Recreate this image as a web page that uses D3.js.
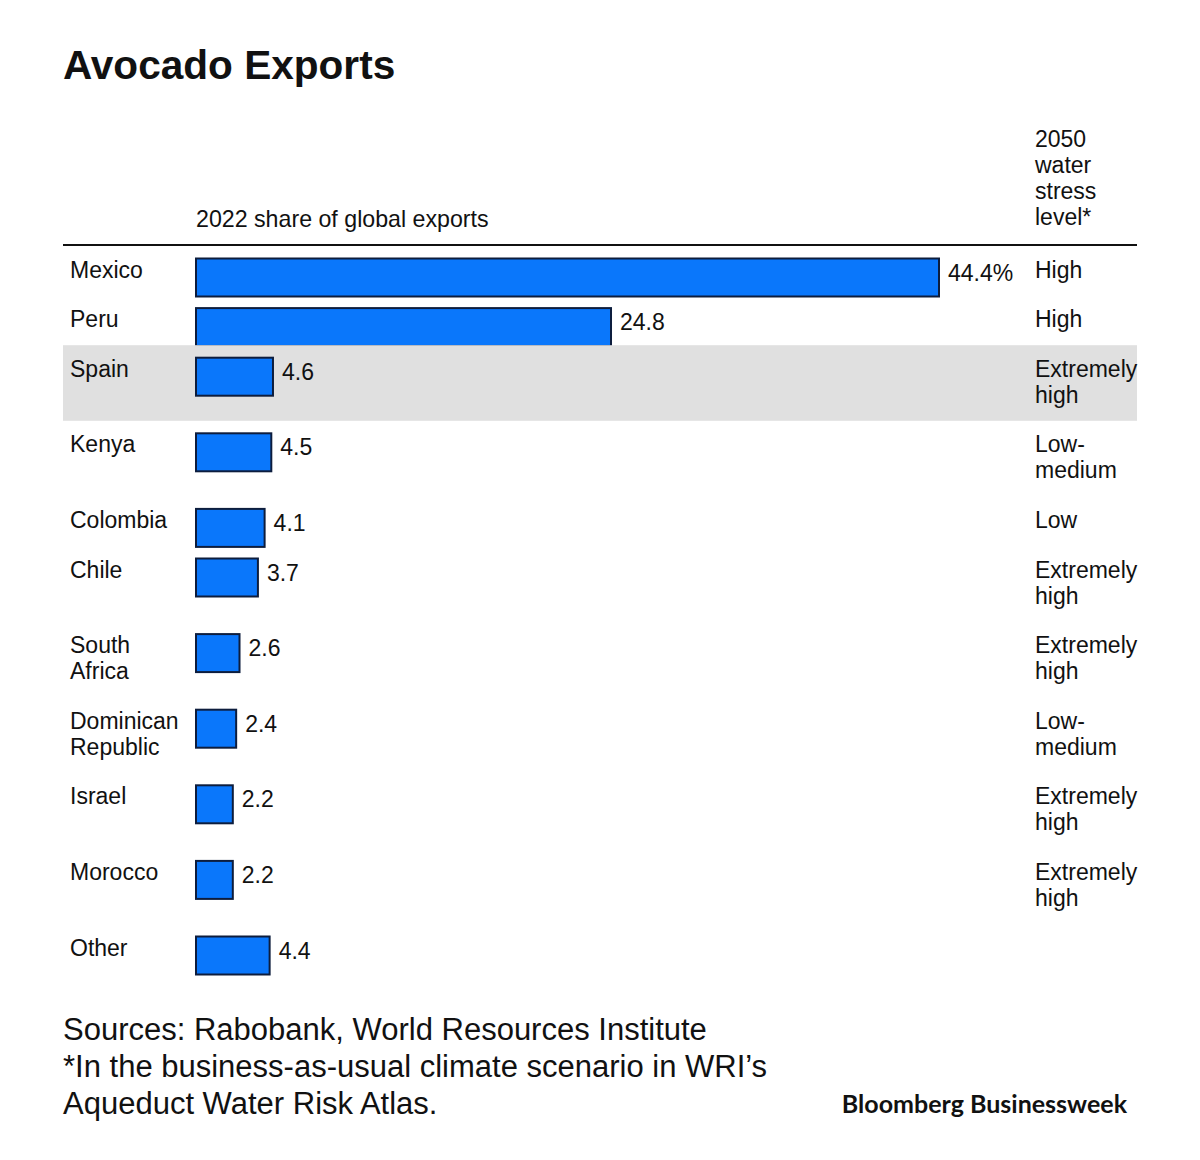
<!DOCTYPE html>
<html>
<head>
<meta charset="utf-8">
<script src="https://cdn.jsdelivr.net/npm/d3@7"></script>
<style>
  html, body { margin: 0; padding: 0; background: #fff; }
  svg text { font-family: "Liberation Sans", Arial, Helvetica, sans-serif; fill: #111; }
</style>
</head>
<body>
<svg id="chart" width="1200" height="1160"></svg>
<script>
const countries = ["Mexico", "Peru", "Spain", "Kenya", "Colombia", "Chile", "South Africa", "Dominican Republic", "Israel", "Morocco", "Other"];
const shares = [44.4, 24.8, 4.6, 4.5, 4.1, 3.7, 2.6, 2.4, 2.2, 2.2, 4.4];
const valueLabels = ["44.4%", "24.8", "4.6", "4.5", "4.1", "3.7", "2.6", "2.4", "2.2", "2.2", "4.4"];
const stressLevels = ["High", "High", "Extremely high", "Low-medium", "Low", "Extremely high", "Extremely high", "Low-medium", "Extremely high", "Extremely high", ""];
const highlighted = ["Spain"];
const title = "Avocado Exports";
const barHeader = "2022 share of global exports";
const stressHeader = ["2050", "water", "stress", "level*"];
const notes = ["Sources: Rabobank, World Resources Institute", "*In the business-as-usual climate scenario in WRI\u2019s", "Aqueduct Water Risk Atlas."];
const brand = "Bloomberg Businessweek";

const svg = d3.select("#chart");
const left = 63, right = 1137;
const labelX = 70, barX = 196, stressX = 1035;
const fontSize = 23;

// wrapping helper
function wrapWords(text, maxW) {
  if (!text) return [];
  const seps = [];
  const meas = svg.append("text").style("font-size", fontSize + "px");
  const lines = [];
  let cur = "";
  text.replace(/([^\s-]+)(-?)(\s?)/g, (m, w, h, s) => { seps.push({w: w + h, space: s}); return m; });
  for (const t of seps) {
    const trial = cur ? cur + t.w : t.w;
    meas.text(trial);
    if (cur && meas.node().getComputedTextLength() > maxW) {
      lines.push(cur.trim());
      cur = t.w + t.space;
    } else {
      cur = trial + t.space;
    }
  }
  if (cur.trim()) lines.push(cur.trim());
  meas.remove();
  return lines;
}

const rows = countries.map((c, i) => {
  const cl = wrapWords(c, 110);
  const sl = wrapWords(stressLevels[i], 96);
  return { country: c, share: shares[i], value: valueLabels[i], cLines: cl, sLines: sl, n: Math.max(cl.length, sl.length, 1) };
});
let y0 = 246.5;
rows.forEach(r => { r.top = y0; r.h = r.n > 1 ? 75.6 : 49.6; y0 += r.h; });

const x = d3.scaleLinear().domain([0, 44.4]).range([barX, 939]);

// Title
svg.append("text").attr("x", left).attr("y", 79).style("font-size", "40.6px").style("font-weight", "bold").text(title);

// Headers
svg.append("text").attr("x", barX).attr("y", 227).style("font-size", "23.2px").text(barHeader);
svg.append("text").attr("x", stressX).attr("y", 147).style("font-size", fontSize + "px")
  .selectAll("tspan").data(stressHeader).join("tspan")
  .attr("x", stressX).attr("dy", (d, i) => i ? 26 : 0).text(d => d);

svg.append("line").attr("x1", left).attr("x2", right).attr("y1", 245).attr("y2", 245)
  .attr("stroke", "#111").attr("stroke-width", 2);

// Rows
const g = svg.selectAll("g.row").data(rows).join("g").attr("class", "row");
g.each(function(r) {
  const s = d3.select(this);
  if (highlighted.includes(r.country)) {
    s.append("rect").attr("x", left).attr("y", r.top - 0.5).attr("width", right - left).attr("height", r.h)
      .attr("fill", "#e0e0e0");
  }
  s.append("rect").attr("x", x(0)).attr("y", r.top + 12).attr("width", x(r.share) - x(0)).attr("height", 38)
    .attr("fill", "#0a77fb").attr("stroke", "#0d1d3d").attr("stroke-width", 2);
  s.append("text").attr("x", x(r.share) + 9).attr("y", r.top + 34).style("font-size", fontSize + "px").text(r.value);
  s.append("text").attr("x", labelX).attr("y", r.top + 31).style("font-size", fontSize + "px")
    .selectAll("tspan").data(r.cLines).join("tspan").attr("x", labelX).attr("dy", (d, i) => i ? 26 : 0).text(d => d);
  s.append("text").attr("x", stressX).attr("y", r.top + 31).style("font-size", fontSize + "px")
    .selectAll("tspan").data(r.sLines).join("tspan").attr("x", stressX).attr("dy", (d, i) => i ? 26 : 0).text(d => d);
});

// Notes
svg.append("text").attr("x", left).attr("y", 1040).style("font-size", "31px")
  .selectAll("tspan").data(notes).join("tspan").attr("x", left).attr("dy", (d, i) => i ? 37 : 0).text(d => d);

svg.append("text").attr("x", 1127).attr("y", 1113).attr("text-anchor", "end")
  .style("font-family", "Lato, 'Open Sans', sans-serif").style("font-weight", "bold").style("font-size", "25px")
  .text(brand);
</script>
</body>
</html>
